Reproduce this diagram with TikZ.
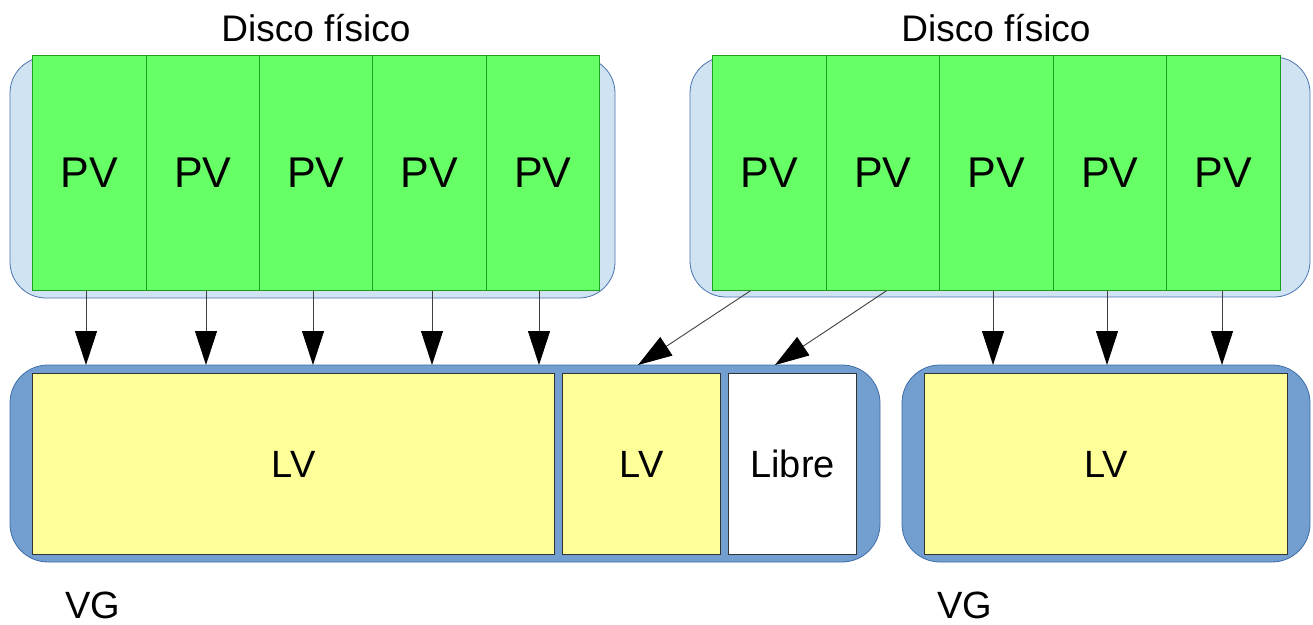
\documentclass[tikz,border=0pt]{standalone}
\usepackage{fontspec}
\setmainfont{Liberation Sans}
\usetikzlibrary{arrows.meta}
\definecolor{diskbg}{HTML}{CFE3F3}
\definecolor{diskbd}{HTML}{4A74B0}
\definecolor{pvfill}{HTML}{66FF66}
\definecolor{pvbd}{HTML}{1E9E1E}
\definecolor{vgfill}{HTML}{729FCF}
\definecolor{vgbd}{HTML}{3F6CA8}
\definecolor{lvfill}{HTML}{FFFF99}
\definecolor{lvbd}{HTML}{333333}
\tikzset{
  disk/.style={fill=diskbg,draw=diskbd,line width=0.8pt,rounded corners=36pt},
  vgbox/.style={fill=vgfill,draw=vgbd,line width=0.8pt,rounded corners=38pt},
  pvbox/.style={fill=pvfill,draw=pvbd,line width=0.8pt,inner sep=0pt,anchor=north west},
  lvbox/.style={fill=lvfill,draw=lvbd,line width=1.2pt,inner sep=0pt,anchor=north west},
  freebox/.style={fill=white,draw=lvbd,line width=1.2pt,inner sep=0pt,anchor=north west},
  conn/.style={draw=black!75,line width=0.9pt,-{Triangle[length=34pt,width=22pt,color=black]}},
  lbl/.style={font=\fontsize{38}{44}\selectfont},
  pvlbl/.style={font=\fontsize{43}{50}\selectfont},
  ttl/.style={font=\fontsize{37}{44}\selectfont,inner sep=0pt,anchor=base}
}
\begin{document}
\begin{tikzpicture}[x=1pt,y=-1pt]
\useasboundingbox (0,0) rectangle (1313,624);
% disks
\draw[disk] (10,57) rectangle (615,298);
\draw[disk] (690,57) rectangle (1310,297);
\node[ttl] (d1) at (316,41) {Disco físico};
\node[ttl] (d2) at (996,41) {Disco físico};
% PVs
\foreach \i/\a/\b in {1/32/146,2/146/259,3/259/372,4/372/486,5/486/599,6/712/826,7/826/939,8/939/1053,9/1053/1166,10/1166/1280}{
  \node[pvbox,minimum width=\b pt-\a pt,minimum height=235pt] (p\i) at (\a,55) {};
  \node[pvlbl] at (p\i.center) {PV};
}
% VGs
\draw[vgbox] (10,365) rectangle (880,562);
\draw[vgbox] (902,365) rectangle (1310,562);
\node[lvbox,minimum width=522pt,minimum height=181pt] (lv1) at (32,373) {};
\node[lbl] at (lv1.center) {LV};
\node[lvbox,minimum width=158pt,minimum height=181pt] (lv2) at (562,373) {};
\node[lbl] at (lv2.center) {LV};
\node[freebox,minimum width=128pt,minimum height=181pt] (fr) at (728,373) {};
\node[lbl] at (fr.center) {Libre};
\node[lvbox,minimum width=363pt,minimum height=181pt] (lv3) at (924,373) {};
\node[lbl] at (lv3.center) {LV};
\node[ttl,font=\fontsize{38}{44}\selectfont] (vg1) at (93,618) {VG};
\node[ttl,font=\fontsize{38}{44}\selectfont] (vg2) at (965,618) {VG};
% connectors
\coordinate (t1) at (86,365);
\coordinate (t2) at (206,365);
\coordinate (t3) at (313,365);
\coordinate (t4) at (432,365);
\coordinate (t5) at (539,365);
\coordinate (t6) at (638,365);
\coordinate (t7) at (775,365);
\coordinate (t8) at (993,365);
\coordinate (t9) at (1107,365);
\coordinate (t10) at (1222,365);
\draw[conn] (p1.south -| t1) -- (t1);
\draw[conn] (p2.south -| t2) -- (t2);
\draw[conn] (p3.south -| t3) -- (t3);
\draw[conn] (p4.south -| t4) -- (t4);
\draw[conn] (p5.south -| t5) -- (t5);
\draw[conn] ([xshift=-19pt]p6.south) -- (t6);
\draw[conn] ([xshift=3.5pt]p7.south) -- (t7);
\draw[conn] (p8.south -| t8) -- (t8);
\draw[conn] (p9.south -| t9) -- (t9);
\draw[conn] (p10.south -| t10) -- (t10);
\end{tikzpicture}
\end{document}
